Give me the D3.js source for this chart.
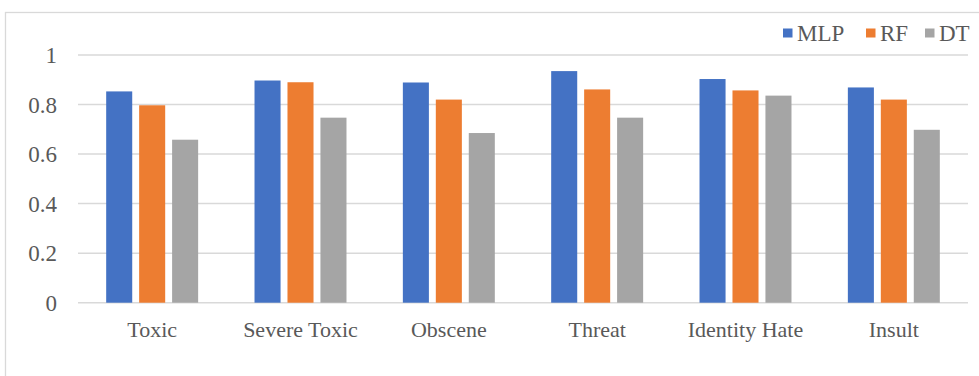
<!DOCTYPE html>
<html>
<head>
<meta charset="utf-8">
<script src="https://cdn.jsdelivr.net/npm/d3@7"></script>
<style>
  html, body { margin: 0; padding: 0; background: #fff; }
  svg { display: block; }
  text { font-family: "Liberation Serif", "Times New Roman", serif; fill: #595959; }
</style>
</head>
<body>
<svg id="chart" width="979" height="376"></svg>
<script>
const categories = ["Toxic", "Severe Toxic", "Obscene", "Threat", "Identity Hate", "Insult"];
const seriesNames = ["MLP", "RF", "DT"];
const mlp = [0.853, 0.897, 0.889, 0.935, 0.903, 0.869];
const rf  = [0.797, 0.890, 0.820, 0.861, 0.857, 0.820];
const dt  = [0.658, 0.747, 0.685, 0.747, 0.836, 0.698];
const yTicks = [0, 0.2, 0.4, 0.6, 0.8, 1];
const yTickLabels = ["0", "0.2", "0.4", "0.6", "0.8", "1"];
const colors = ["#4472C4", "#ED7D31", "#A5A5A5"];

const seriesValues = [mlp, rf, dt];
const svg = d3.select("#chart");

// outer chart border
svg.append("rect")
  .attr("x", 5.5).attr("y", 12.5)
  .attr("width", 990).attr("height", 400)
  .attr("fill", "none").attr("stroke", "#d9d9d9").attr("stroke-width", 1.3);

const plotLeft = 78, plotRight = 968, plotTop = 55, plotBottom = 302.7;

const y = d3.scaleLinear().domain([0, 1]).range([plotBottom, plotTop]);
const x0 = d3.scaleBand().domain(categories).range([plotLeft, plotRight])
  .paddingInner(0.38).paddingOuter(0.19);
const x1 = d3.scaleBand().domain(seriesNames).range([0, x0.bandwidth()])
  .paddingInner(0.21).paddingOuter(0);

// gridlines
svg.append("g").selectAll("line").data(yTicks).join("line")
  .attr("x1", plotLeft).attr("x2", plotRight)
  .attr("y1", d => y(d)).attr("y2", d => y(d))
  .attr("stroke", "#d9d9d9").attr("stroke-width", 1.5);

// y tick labels
svg.append("g").selectAll("text").data(yTicks).join("text")
  .attr("x", 57).attr("y", d => y(d))
  .attr("dy", "0.35em")
  .attr("text-anchor", "end")
  .attr("font-size", 23)
  .text((d, i) => yTickLabels[i]);

// bars
const groups = svg.append("g").selectAll("g").data(categories).join("g")
  .attr("transform", d => `translate(${x0(d)},0)`);
groups.selectAll("rect")
  .data((c, ci) => seriesNames.map((s, si) => ({ s, v: seriesValues[si][ci], si })))
  .join("rect")
  .attr("x", d => x1(d.s))
  .attr("width", x1.bandwidth())
  .attr("y", d => y(d.v))
  .attr("height", d => y(0) - y(d.v))
  .attr("fill", d => colors[d.si]);

// x labels
svg.append("g").selectAll("text").data(categories).join("text")
  .attr("x", d => x0(d) + x0.bandwidth() / 2)
  .attr("y", 336.5)
  .attr("text-anchor", "middle")
  .attr("font-size", 22)
  .text(d => d);

// legend
const legendX = [783, 866, 925];
const lg = svg.append("g").selectAll("g").data(seriesNames).join("g")
  .attr("transform", (d, i) => `translate(${legendX[i]},33)`);
lg.append("rect").attr("x", 0).attr("y", -4.5).attr("width", 9.5).attr("height", 9)
  .attr("fill", (d, i) => colors[i]);
lg.append("text").attr("x", 14).attr("y", 0).attr("dy", "0.35em")
  .attr("font-size", 23).text(d => d);
</script>
</body>
</html>
